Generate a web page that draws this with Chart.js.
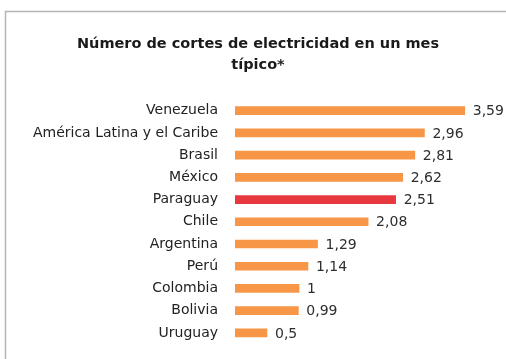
<!DOCTYPE html>
<html>
<head>
<meta charset="utf-8">
<script src="https://cdn.jsdelivr.net/npm/chart.js@4/dist/chart.umd.min.js"></script>
<style>
  html,body{margin:0;padding:0;background:#fff;}
  #caja{width:506px;height:359px;}
</style>
</head>
<body>
<div id="caja"><canvas id="grafico" width="506" height="359"></canvas></div>
<script>
const paises=['Venezuela','América Latina y el Caribe','Brasil','México','Paraguay','Chile','Argentina','Perú','Colombia','Bolivia','Uruguay'];
const cortes=[3.59,2.96,2.81,2.62,2.51,2.08,1.29,1.14,1,0.99,0.5];
const resaltado='Paraguay';

const naranja='#F79646';
const rojo='#E8383F';
const colores=paises.map(p=>p===resaltado?rojo:naranja);

// marco gris alrededor del grafico
const marco={
  id:'marco',
  beforeDraw(chart){
    const c=chart.ctx;
    c.save();
    c.fillStyle='#fff';
    c.fillRect(0,0,chart.width,chart.height);
    c.strokeStyle='#b4b4b4';
    c.lineWidth=1.5;
    c.strokeRect(5.5,11.5,620,420);
    c.restore();
  }
};

// numero al final de cada barra, con coma decimal
const valores={
  id:'valores',
  afterDatasetsDraw(chart){
    const c=chart.ctx;
    const meta=chart.getDatasetMeta(0);
    c.save();
    c.font='14px "DejaVu Sans"';
    c.fillStyle='#2e2e2e';
    c.textAlign='left';
    c.textBaseline='middle';
    meta.data.forEach((bar,i)=>{
      const txt=String(cortes[i]).replace('.',',');
      c.fillText(txt,bar.x+8,bar.y+1);
    });
    c.restore();
  }
};

const ctx=document.getElementById('grafico').getContext('2d');
new Chart(ctx,{
  type:'bar',
  data:{
    labels:paises,
    datasets:[{
      data:cortes,
      backgroundColor:colores,
      barThickness:8
    }]
  },
  options:{
    indexAxis:'y',
    responsive:false,
    animation:false,
    layout:{padding:{top:22,left:25,right:15,bottom:15}},
    plugins:{
      legend:{display:false},
      tooltip:{enabled:false},
      title:{
        display:true,
        text:['Número de cortes de electricidad en un mes','típico*'],
        color:'#1a1a1a',
        font:{family:'DejaVu Sans',size:14.5,weight:'bold',lineHeight:1.45},
        padding:{top:11.5,bottom:24}
      }
    },
    scales:{
      x:{display:false,min:0,max:4},
      y:{
        grid:{display:false,drawTicks:false},
        border:{display:false},
        ticks:{
          color:'#222',
          padding:17,
          font:{family:'DejaVu Sans',size:14}
        },
        afterFit(scale){
          scale.width=210;
          // sin margen extra arriba/abajo por las etiquetas
          scale.paddingTop=0;
          scale.paddingBottom=0;
        }
      }
    }
  },
  plugins:[marco,valores]
});
</script>
</body>
</html>
